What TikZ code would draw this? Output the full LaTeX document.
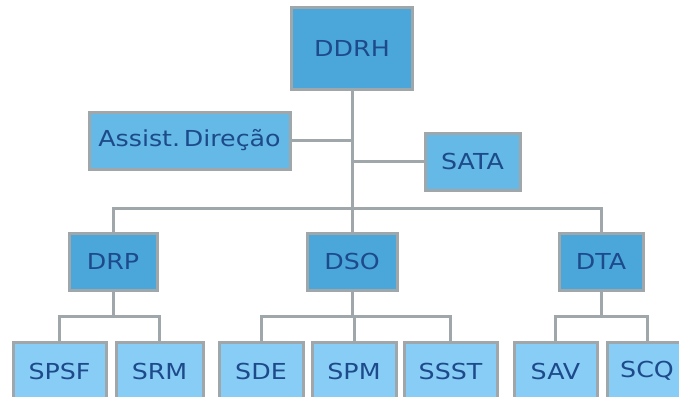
\documentclass[tikz,border=0pt]{standalone}
\usepackage{fontspec}
\setmainfont[FakeStretch=1.15]{DejaVu Sans}
\usepackage{tikz}

\definecolor{boxdark}{HTML}{4BA7DA}
\definecolor{boxmid}{HTML}{64B9E6}
\definecolor{boxlight}{HTML}{88CDF5}
\definecolor{linegray}{HTML}{A0A7AA}
\definecolor{txtblue}{HTML}{1D4A8A}

\begin{document}
\begin{tikzpicture}[x=1pt, y=-1pt,
    orgbox/.style={draw=linegray, line width=3pt, text=txtblue, minimum height=57pt,
      font=\fontsize{22}{26}\selectfont, inner sep=0pt},
    darkbox/.style={orgbox, fill=boxdark},
    midbox/.style={orgbox, fill=boxmid},
    lightbox/.style={orgbox, fill=boxlight},
    link/.style={draw=linegray, line width=3pt}]
      \useasboundingbox (0,0) rectangle (679,396);
      \clip (0,0) rectangle (679,396);

      \node[darkbox, minimum width=121pt, minimum height=81pt] (DDRH) at (352,48.5) {DDRH};
      \node[midbox, minimum width=201pt] (Assist) at (189.5,140.5) {Assist.\,Direção};
      \node[midbox, minimum width=95pt] (SATA) at (472.5,161.5) {SATA};

      \node[darkbox, minimum width=88pt] (DRP) at (113,261.5) {DRP};
      \node[darkbox, minimum width=90pt] (DSO) at (352,261.5) {DSO};
      \node[darkbox, minimum width=84pt] (DTA) at (601,261.5) {DTA};

      \node[lightbox, minimum width=93pt] (SPSF) at (59.5,371) {SPSF};
      \node[lightbox, minimum width=87pt] (SRM) at (159.5,371) {SRM};
      \node[lightbox, minimum width=84pt] (SDE) at (261,371) {SDE};
      \node[lightbox, minimum width=84pt] (SPM) at (354,371) {SPM};
      \node[lightbox, minimum width=93pt] (SSST) at (450.5,371) {SSST};
      \node[lightbox, minimum width=83pt] (SAV) at (555.5,371) {SAV};
      \node[lightbox, minimum width=80pt] (SCQ) at (647,371) {SCQ};

      \coordinate (bus) at (352,208);

      \draw[link] (DDRH.south) -- (bus);
      \draw[link] (Assist.east) -- (Assist.east -| bus);
      \draw[link] (SATA.west) -- (SATA.west -| bus);
      \foreach \d in {DRP, DSO, DTA}{
        \draw[link] (\d.north) |- (bus);
      }

      \foreach \c in {SPSF, SRM}{
        \draw[link] (DRP.south) -- ++(0,25) -| (\c.north);
      }
      \foreach \c in {SDE, SPM, SSST}{
        \draw[link] (DSO.south) -- ++(0,25) -| (\c.north);
      }
      \foreach \c in {SAV, SCQ}{
        \draw[link] (DTA.south) -- ++(0,25) -| (\c.north);
      }
    \end{tikzpicture}
\end{document}
